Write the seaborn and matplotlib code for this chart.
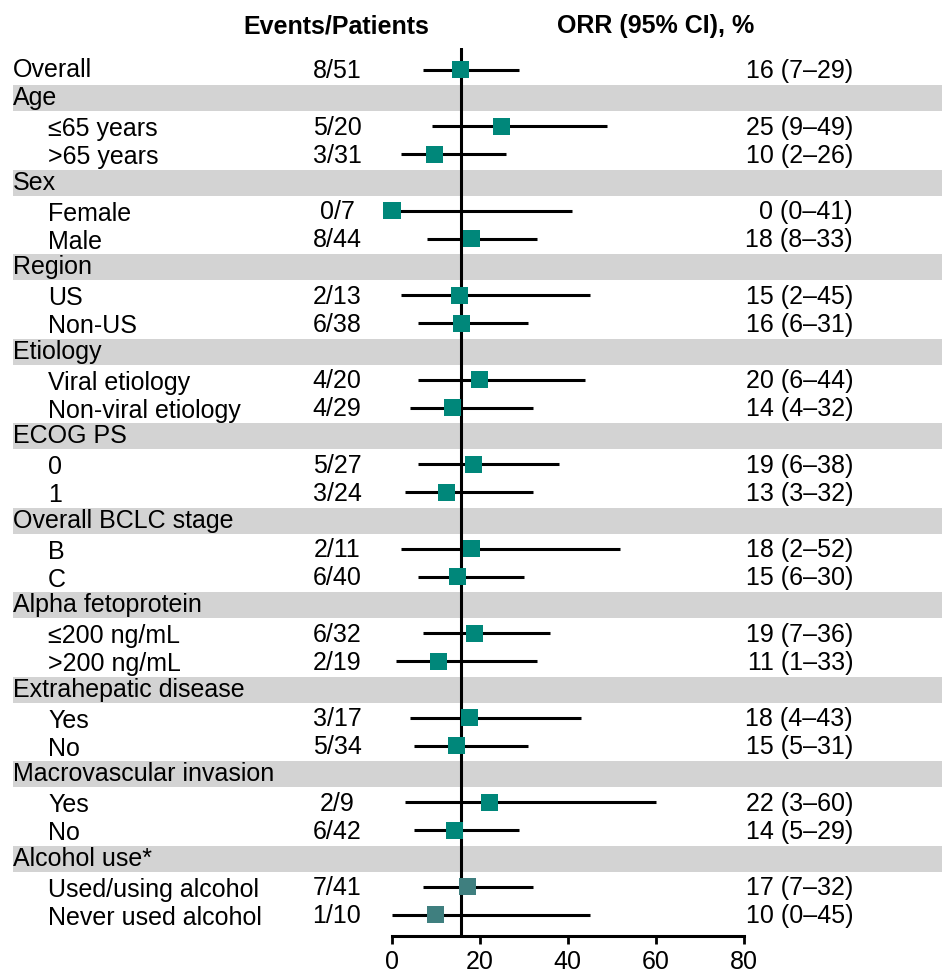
import matplotlib
matplotlib.use("Agg")
import matplotlib.pyplot as plt
import matplotlib.transforms as mtransforms
from matplotlib.patches import Rectangle
import pandas as pd
import seaborn as sns

# rows top to bottom; headers have no numbers
labels = ["Overall", "Age", "≤65 years", ">65 years", "Sex", "Female", "Male",
          "Region", "US", "Non-US", "Etiology", "Viral etiology", "Non-viral etiology",
          "ECOG PS", "0", "1", "Overall BCLC stage", "B", "C",
          "Alpha fetoprotein", "≤200 ng/mL", ">200 ng/mL",
          "Extrahepatic disease", "Yes", "No", "Macrovascular invasion", "Yes", "No",
          "Alcohol use*", "Used/using alcohol", "Never used alcohol"]
is_header = [False, True, False, False, True, False, False,
             True, False, False, True, False, False,
             True, False, False, True, False, False,
             True, False, False,
             True, False, False, True, False, False,
             True, False, False]
events = ["8/51", None, "5/20", "3/31", None, "0/7", "8/44",
          None, "2/13", "6/38", None, "4/20", "4/29",
          None, "5/27", "3/24", None, "2/11", "6/40",
          None, "6/32", "2/19",
          None, "3/17", "5/34", None, "2/9", "6/42",
          None, "7/41", "1/10"]
orr = [15.7, None, 25.0, 9.7, None, 0.0, 18.2,
       None, 15.4, 15.8, None, 20.0, 13.8,
       None, 18.5, 12.5, None, 18.2, 15.0,
       None, 18.8, 10.5,
       None, 17.6, 14.7, None, 22.2, 14.3,
       None, 17.1, 10.0]
ci_low = [7, None, 9, 2, None, 0, 8,
          None, 2, 6, None, 6, 4,
          None, 6, 3, None, 2, 6,
          None, 7, 1,
          None, 4, 5, None, 3, 5,
          None, 7, 0]
ci_high = [29, None, 49, 26, None, 41, 33,
           None, 45, 31, None, 44, 32,
           None, 38, 32, None, 52, 30,
           None, 36, 33,
           None, 43, 31, None, 60, 29,
           None, 32, 45]
orr_text = ["16 (7–29)", None, "25 (9–49)", "10 (2–26)", None, "0 (0–41)", "18 (8–33)",
            None, "15 (2–45)", "16 (6–31)", None, "20 (6–44)", "14 (4–32)",
            None, "19 (6–38)", "13 (3–32)", None, "18 (2–52)", "15 (6–30)",
            None, "19 (7–36)", "11 (1–33)",
            None, "18 (4–43)", "15 (5–31)", None, "22 (3–60)", "14 (5–29)",
            None, "17 (7–32)", "10 (0–45)"]
overall_orr = 15.7

sns.set_style("white")
plt.rcParams["font.family"] = ["Liberation Sans", "DejaVu Sans"]
plt.rcParams["text.color"] = "black"
FS = 18

df = pd.DataFrame({"label": labels, "header": is_header, "events": events,
                   "orr": orr, "lo": ci_low, "hi": ci_high, "text": orr_text})
df["row"] = range(len(df))
df["group"] = ["alcohol" if r >= 29 else "main" for r in df["row"]]
pts = df[~df["header"]]

fig = plt.figure(figsize=(9.42, 9.73), dpi=100)
ax = fig.add_axes([392 / 942, 37 / 973, 351.5 / 942, 888 / 973])
trans = mtransforms.blended_transform_factory(fig.transFigure, ax.transData)

# grey header bands
for _, r in df[df["header"]].iterrows():
    ax.add_patch(Rectangle((13 / 942, r["row"] - 0.46), 1 - 13 / 942, 0.92,
                           transform=trans, facecolor="#d3d3d3", edgecolor="none",
                           clip_on=False, zorder=0))

ax.axvline(overall_orr, color="black", lw=2.2, zorder=2)
ax.hlines(pts["row"], pts["lo"], pts["hi"], color="black", lw=2.2, zorder=1, clip_on=False)
sns.scatterplot(data=pts, x="orr", y="row", hue="group", marker="s", s=150,
                palette={"main": "#00877a", "alcohol": "#3f7f7f"}, linewidth=0,
                legend=False, ax=ax, zorder=3, clip_on=False)

for _, r in df.iterrows():
    y = r["row"]
    if r["header"] or r["label"] == "Overall":
        ax.text(13 / 942, y, r["label"], transform=trans, fontsize=FS, va="center", ha="left")
    else:
        ax.text(48 / 942, y + 0.1, r["label"], transform=trans, fontsize=FS, va="center", ha="left")
    if not r["header"]:
        ax.text(337 / 942, y + 0.05, r["events"], transform=trans, fontsize=FS, va="center", ha="center")
        ax.text(853 / 942, y + 0.05, r["text"], transform=trans, fontsize=FS, va="center", ha="right")

fig.text(336 / 942, 1 - 26 / 973, "Events/Patients", fontsize=FS, fontweight="bold",
         ha="center", va="center")
fig.text(656 / 942, 1 - 26 / 973, "ORR (95% CI), %", fontsize=FS, fontweight="bold",
         ha="center", va="center")

ax.set_xlim(0, 80)
ax.set_ylim(30.75, -0.78)
ax.set_xticks([0, 20, 40, 60, 80])
ax.set_yticks([])
ax.set_xlabel("")
ax.set_ylabel("")
for side in ["top", "left", "right"]:
    ax.spines[side].set_visible(False)
ax.spines["bottom"].set_linewidth(2.2)
ax.spines["bottom"].set_color("black")
ax.tick_params(axis="x", direction="out", length=6, width=2, colors="black",
               labelsize=FS, pad=4, bottom=True)
ax.patch.set_alpha(0)

fig.savefig("out.png", dpi=100)
